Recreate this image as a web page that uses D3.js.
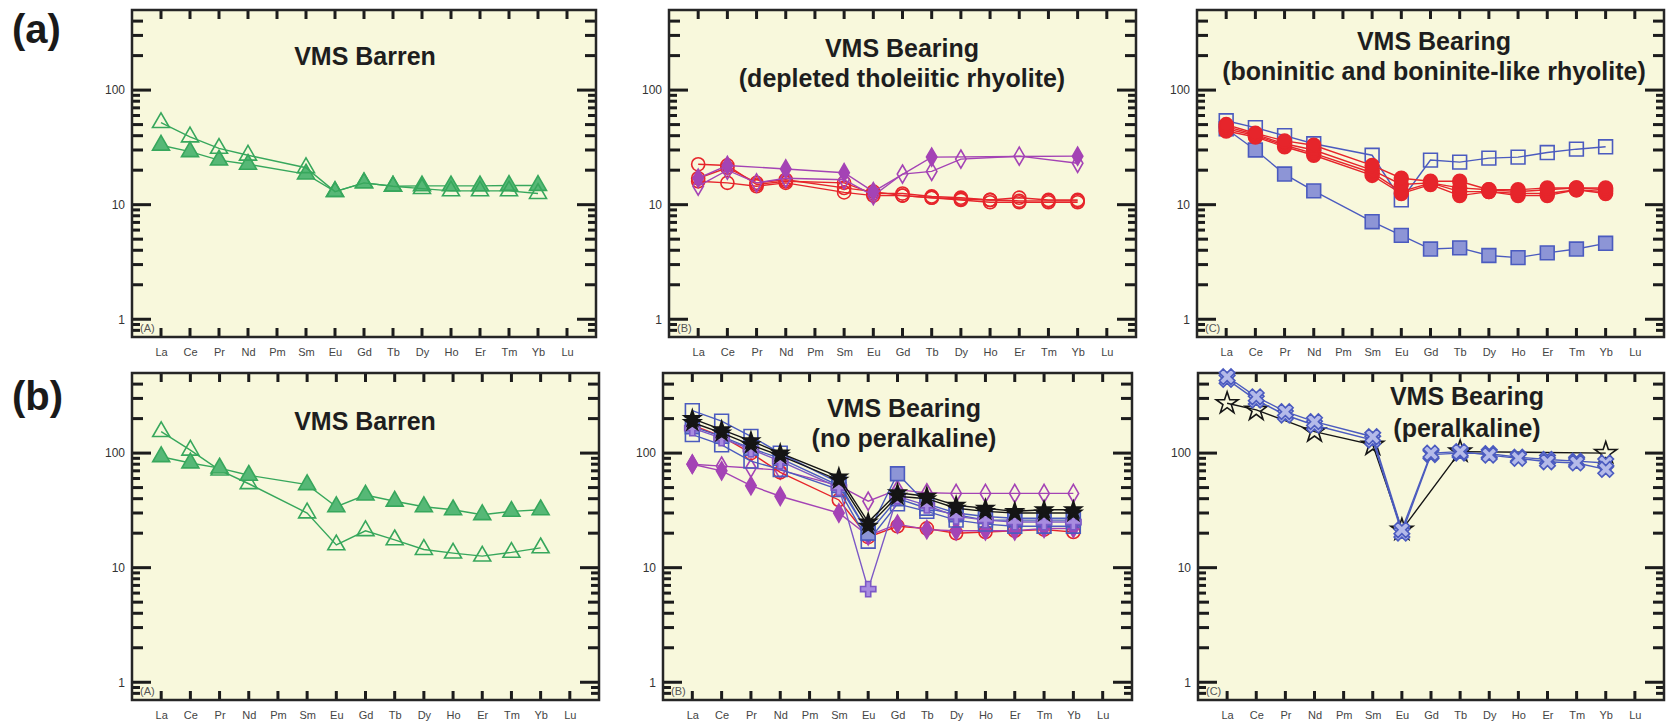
<!DOCTYPE html>
<html>
<head>
<meta charset="utf-8">
<script src="https://cdn.jsdelivr.net/npm/d3@7"></script>
<style>
  body { margin: 0; background: #fff; }
  svg { display: block; font-family: "Liberation Sans", Arial, Helvetica, sans-serif; }
</style>
</head>
<body>
<svg id="chart" width="1670" height="724"></svg>
<script>
// ---- data -------------------------------------------------------------
const categories = ["La","Ce","Pr","Nd","Pm","Sm","Eu","Gd","Tb","Dy","Ho","Er","Tm","Yb","Lu"];
const yTickLabels = [1, 10, 100];
const yMinorTicks = [0.8, 0.9, 2, 3, 4, 5, 6, 7, 8, 9, 20, 30, 40, 50, 60, 70, 80, 90, 200, 300, 400];
const rowLabels = ["(a)", "(b)"];

// (a) VMS barren
const aBarrenOpen   = [52, 39, 31, 27, null, 21, 13, 15.5, 14.5, 13.8, 13.2, 13.2, 13.2, 12.5, null];
const aBarrenFilled = [33, 29, 24.5, 22.5, null, 18.5, 13, 15.5, 14.5, 14.6, 14.6, 14.6, 14.7, 14.7, null];

// (a) VMS bearing, depleted tholeiitic rhyolite
const thRed1 = [22.5, 22, 15, 16, null, 15.5, 12.5, 12.5, 11.8, 11.5, 11, 11.5, 11, 11, null];
const thRed2 = [16, 15.5, 14.5, 15.5, null, 12.8, 12, 12, 11.5, 11, 10.5, 10.5, 10.5, 10.5, null];
const thRed3 = [17, 21, 15.5, 16.5, null, 14, 13, 12, 11.5, 11.2, 11, 10.8, 10.8, 10.8, null];
const thPurpleOpen   = [14.5, 20, 15.5, 17, null, 16.5, 12, 18.5, 19.5, 25, null, 26.5, null, 23, null];
const thPurpleFilled = [17, 22, null, 20.5, null, 19, 13, null, 26, null, null, null, null, 26.5, null];

// (a) VMS bearing, boninitic and boninite-like rhyolite
const bonBlueOpen   = [54, 47, 40, 34, null, 27, 11, 24.5, 23.5, 25.5, 26, 28.5, 30.5, 32, null];
const bonBlueFilled = [46, 30, 18.5, 13.2, null, 7.1, 5.4, 4.1, 4.2, 3.6, 3.45, 3.8, 4.1, 4.6, null];
const bonRed1 = [50, 42, 36, 33, null, 22, 17, 16, 16, 13.5, 13.5, 14, 14, 14, null];
const bonRed2 = [48, 41, 34, 30, null, 20, 15, 15.5, 14, 13.5, 13, 13.5, 14, 13.5, null];
const bonRed3 = [46, 40, 33, 28, null, 19, 13, 15.5, 13, 13, 12.5, 12.5, 13.5, 13, null];
const bonRed4 = [44, 39, 32, 27, null, 18, 12.5, 15, 12, 13, 12, 12, 13.5, 12.5, null];

// (b) VMS barren
const bBarrenOpen   = [154, 106, 71, 54, null, 30, 15.8, 21, 17.5, 14.4, 13.4, 12.6, 13.6, 14.9, null];
const bBarrenFilled = [93, 82, 74, 64, null, 53, 34, 43, 38, 34, 32, 29, 31, 32, null];

// (b) VMS bearing, no peralkaline
const npStar1     = [200, 160, 128, 100, null, 62, 25, 45, 42, 35, 33, 31, 32, 32, null];
const npStar2     = [185, 150, 118, 95, null, 58, 23, 42, 40, 33, 31, 30, 30, 30, null];
const npSqOpen1   = [235, 190, 140, 100, null, 55, 20, 40, 33, 29, 26, 26, 26, 26, null];
const npSqOpen2   = [145, 118, 85, 72, null, 48, 17, 36, 31, 26, 24, 23, 23, 23, null];
const npSqFilled  = [170, 140, 110, 90, null, 52, 20, 66, 36, 30, 28, 27, 27, 27, null];
const npPlus      = [165, 135, 108, 85, null, 50, 6.5, 42, 35, 28, 26, 25, 25, 25, null];
const npRedCircle = [175, 140, 100, 68, null, 39, 18.5, 23, 22, 20, 20.5, 21, 21.5, 20.5, null];
const npDiaFilled = [80, 70, 52, 42, null, 30, 19, 24, 21.5, 21, 21, 21, 22, 22, null];
const npDiaOpen   = [80, 77, 74, 71, null, 52, 38, 48, 45, 44.5, 44.5, 44.5, 44.5, 44.5, null];

// (b) VMS bearing, peralkaline
const pkCross1 = [464, 310, 230, 188, null, 139, 21.4, 100, 103, 96, 90, 84, 82, 72, null];
const pkCross2 = [440, 290, 215, 175, null, 130, 20, 97, 100, 99, 92, 88, 85, 82, null];
const pkStar   = [272, 238, null, 154, null, 118, 21.4, null, 103, null, null, null, null, 100, null];

// ---- marker / line styles ----------------------------------------------
const GREEN = "#37a75c", RED = "#e6252b", PURPLE = "#a443b5", BLUE = "#4b5bbf", BLACK = "#151515";
const styles = {
  triOpen:   { shape: d3.symbolTriangle, size: 125, color: GREEN, fill: "none" },
  triFill:   { shape: d3.symbolTriangle, size: 125, color: GREEN, fill: "#56b876" },
  circOpen:  { shape: d3.symbolCircle, size: 135, color: RED, fill: "none" },
  circFill:  { shape: d3.symbolCircle, size: 150, color: RED, fill: RED },
  diaOpen:   { shape: d3.symbolDiamond, size: 95, color: PURPLE, fill: "none" },
  diaFill:   { shape: d3.symbolDiamond, size: 95, color: PURPLE, fill: PURPLE },
  sqOpen:    { shape: d3.symbolSquare, size: 190, color: BLUE, fill: "none" },
  sqFill:    { shape: d3.symbolSquare, size: 190, color: BLUE, fill: "#8d95d6" },
  starFill:  { shape: d3.symbolStar, size: 85, color: BLACK, fill: BLACK },
  starOpen:  { shape: d3.symbolStar, size: 150, color: BLACK, fill: "none" },
  plus:      { shape: d3.symbolCross, size: 130, color: "#7c58c6", fill: "#a88ce0" },
  cross:     { shape: d3.symbolCross, size: 150, color: BLUE, fill: "#b4bae9", rotate: 45 }
};

// ---- layout -------------------------------------------------------------
const panels = [
  { box: [132, 596, 10, 337], tag: "(A)", title: ["VMS Barren"], tx: 365, ty: [65],
    series: [[aBarrenFilled, "triFill"], [aBarrenOpen, "triOpen"]] },
  { box: [669, 1136, 10, 337], tag: "(B)", title: ["VMS Bearing", "(depleted tholeiitic rhyolite)"], tx: 902, ty: [57, 87],
    series: [[thRed2, "circOpen"], [thRed3, "circOpen"], [thRed1, "circOpen"], [thPurpleOpen, "diaOpen"], [thPurpleFilled, "diaFill"]] },
  { box: [1197, 1664, 10, 337], tag: "(C)", title: ["VMS Bearing", "(boninitic and boninite-like rhyolite)"], tx: 1434, ty: [50, 80],
    series: [[bonBlueFilled, "sqFill"], [bonBlueOpen, "sqOpen"], [bonRed4, "circFill"], [bonRed3, "circFill"], [bonRed2, "circFill"], [bonRed1, "circFill"]] },
  { box: [132, 599, 373, 700], tag: "(A)", title: ["VMS Barren"], tx: 365, ty: [430],
    series: [[bBarrenOpen, "triOpen"], [bBarrenFilled, "triFill"]] },
  { box: [663, 1132, 373, 700], tag: "(B)", title: ["VMS Bearing", "(no peralkaline)"], tx: 904, ty: [417, 447],
    series: [[npDiaOpen, "diaOpen"], [npRedCircle, "circOpen"], [npDiaFilled, "diaFill"], [npSqOpen2, "sqOpen"], [npSqOpen1, "sqOpen"],
             [npSqFilled, "sqFill"], [npPlus, "plus"], [npStar2, "starFill"], [npStar1, "starFill"]] },
  { box: [1198, 1664, 373, 700], tag: "(C)", title: ["VMS Bearing", "(peralkaline)"], tx: 1467, ty: [405, 437],
    series: [[pkStar, "starOpen"], [pkCross2, "cross"], [pkCross1, "cross"]] }
];
const rowLabelPos = [[12, 43], [12, 410]];

// ---- drawing ------------------------------------------------------------
const svg = d3.select("#chart");
const BG = "#f8f8dc";
const TICK_FILL = "#1c1c1c";

panels.forEach(p => {
  const [x0, x1, y0, y1] = p.box;
  const x = d3.scaleLinear().domain([-1, 15]).range([x0, x1]);
  const y = d3.scaleLog().domain([0.7, 500]).range([y1, y0]);
  const g = svg.append("g");

  g.append("rect").attr("x", x0).attr("y", y0).attr("width", x1 - x0).attr("height", y1 - y0)
    .attr("fill", BG);

  // inward y ticks on the left and right edges, drawn as small bars
  const yTicks = yTickLabels.map(v => ({ v, len: 19 }))
    .concat(yMinorTicks.map(v => ({ v, len: (v / Math.pow(10, Math.floor(Math.log10(v) + 1e-9))) < 5.5 ? 11 : 8 })));
  const tk = g.append("g").attr("class", "frame-ticks");
  tk.selectAll("rect.yl").data(yTicks).join("rect").attr("class", "yl")
    .attr("x", x0).attr("y", d => y(d.v) - 1.5).attr("width", d => d.len).attr("height", 3).attr("fill", TICK_FILL);
  tk.selectAll("rect.yr").data(yTicks).join("rect").attr("class", "yr")
    .attr("x", d => x1 - d.len).attr("y", d => y(d.v) - 1.5).attr("width", d => d.len).attr("height", 3).attr("fill", TICK_FILL);
  // inward element ticks on the top and bottom edges
  tk.selectAll("rect.xb").data(d3.range(categories.length)).join("rect").attr("class", "xb")
    .attr("x", i => x(i) - 1.5).attr("y", y1 - 9).attr("width", 3).attr("height", 9).attr("fill", TICK_FILL);
  tk.selectAll("rect.xt").data(d3.range(categories.length)).join("rect").attr("class", "xt")
    .attr("x", i => x(i) - 1.5).attr("y", y0).attr("width", 3).attr("height", 9).attr("fill", TICK_FILL);

  // y labels
  g.append("g").attr("transform", `translate(${x0},0)`)
    .call(d3.axisLeft(y).tickValues(yTickLabels).tickSize(0).tickPadding(7).tickFormat(d3.format("d")))
    .call(a => { a.select(".domain").remove(); a.selectAll("text").attr("font-size", 12).attr("fill", "#333").attr("font-family", "Liberation Sans, Arial, sans-serif"); });
  // element labels
  g.append("g").attr("transform", `translate(0,${y1})`)
    .call(d3.axisBottom(x).tickValues(d3.range(categories.length)).tickSize(0).tickPadding(11).tickFormat(i => categories[i]))
    .call(a => { a.select(".domain").remove(); a.selectAll("text").attr("font-size", 11).attr("fill", "#444").attr("font-family", "Liberation Sans, Arial, sans-serif"); });

  // frame
  g.append("rect").attr("x", x0).attr("y", y0).attr("width", x1 - x0).attr("height", y1 - y0)
    .attr("fill", "none").attr("stroke", "#262626").attr("stroke-width", 2.5);

  // panel tag
  g.append("text").attr("x", x0 + 8).attr("y", y1 - 5).attr("font-size", 11).attr("fill", "#555").text(p.tag);

  // title
  p.title.forEach((t, i) => {
    g.append("text").attr("x", p.tx).attr("y", p.ty[i]).attr("text-anchor", "middle")
      .attr("font-size", 25).attr("font-weight", "bold").attr("fill", "#1e1e1e").text(t);
  });

  // series
  const line = d3.line().x(d => x(d.i)).y(d => y(d.v));
  p.series.forEach(([vals, key]) => {
    const st = styles[key];
    const pts = vals.map((v, i) => ({ i, v })).filter(d => d.v != null);
    g.append("path").datum(pts).attr("d", line).attr("fill", "none")
      .attr("stroke", st.color).attr("stroke-width", 1.4);
    const sym = d3.symbol().type(st.shape).size(st.size);
    g.selectAll(null).data(pts).join("path")
      .attr("transform", d => `translate(${x(d.i)},${y(d.v)})` + (st.rotate ? ` rotate(${st.rotate})` : ""))
      .attr("d", sym)
      .attr("fill", st.fill).attr("stroke", st.color).attr("stroke-width", 1.6);
  });
});

rowLabels.forEach((t, i) => {
  svg.append("text").attr("x", rowLabelPos[i][0]).attr("y", rowLabelPos[i][1])
    .attr("font-size", 40).attr("font-weight", "bold").attr("fill", "#1a1a1a").text(t);
});
</script>
</body>
</html>
